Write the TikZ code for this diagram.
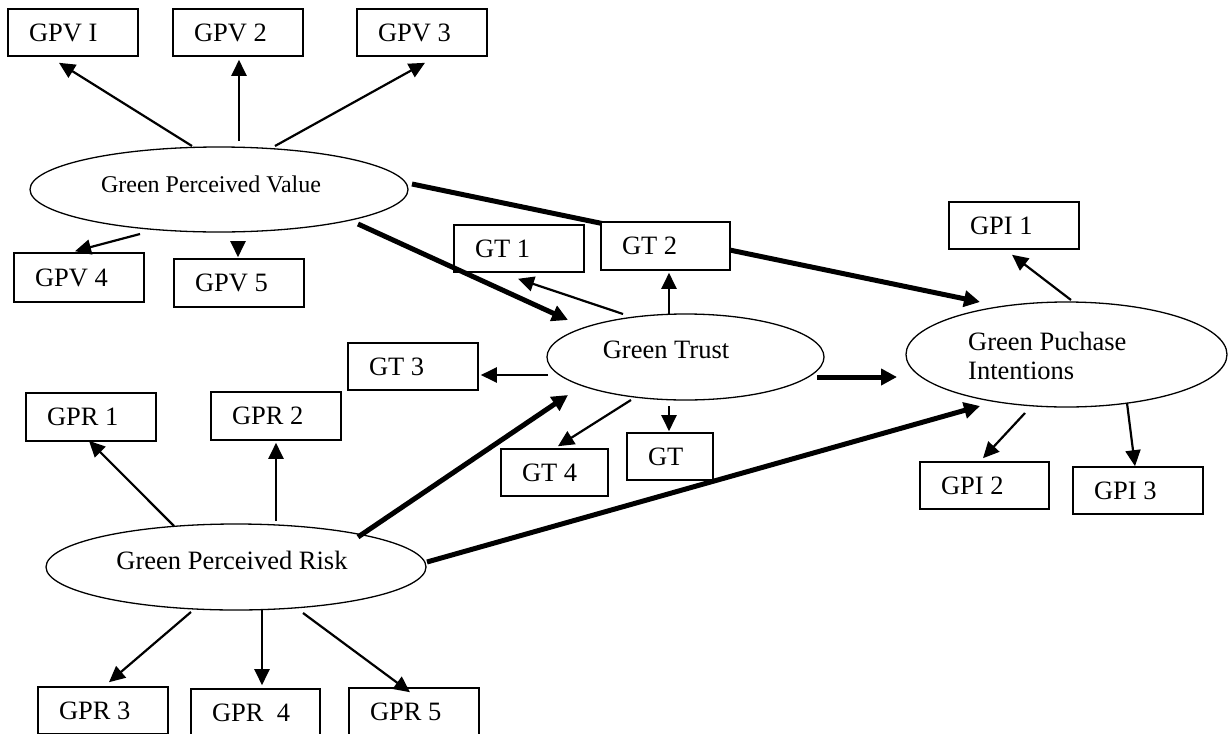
\documentclass[tikz,border=0pt]{standalone}
\usepackage{fontspec}
\setmainfont{Liberation Serif}
\usetikzlibrary{shapes.geometric,calc,arrows.meta,backgrounds}
\begin{document}
\begin{tikzpicture}[x=1pt,y=-1pt,
  box/.style={draw, fill=white, line width=1.6pt, minimum height=47pt, inner xsep=21pt, inner ysep=0pt, text width=#1, align=flush left, font=\fontsize{26.5}{30}\selectfont},
  box/.default=88pt,
  oval/.style={draw, ellipse, line width=1.3pt, inner sep=0pt},
  lbl/.style={inner sep=0pt, font=\fontsize{26.5}{29}\selectfont},
  arr/.style={line width=2.2pt, -{Triangle[length=16pt,width=15pt]}},
  barr/.style={line width=5pt, -{Triangle[length=16pt,width=16pt]}},
]
\useasboundingbox (0,0) rectangle (1232,734);
\clip (0,0) rectangle (1232,733);

% ellipses
\node[oval, minimum width=378pt, minimum height=85pt] (gpv) at (219,189.5) {};
\node[oval, minimum width=277pt, minimum height=86pt] (gt) at (685.5,357) {};
\node[oval, minimum width=321pt, minimum height=105pt] (gpi) at (1066.5,354.5) {};
\node[oval, minimum width=380pt, minimum height=86pt] (gpr) at (236,567) {};

\node[lbl, font=\fontsize{24}{28}\selectfont] (gpvt) at (211,184.5) {Green Perceived Value};
\node[lbl] (gtt) at (666,350) {Green Trust};
\node[lbl, align=flush left, anchor=west] (gpit) at (968,355.5) {Green Puchase\\Intentions};
\node[lbl] (gprt) at (232,560.5) {Green Perceived Risk};

% boxes
\node[box] (gpv1) at (73,32.5) {GPV I};
\node[box] (gpv2) at (238,32.5) {GPV 2};
\node[box] (gpv3) at (422,32.5) {GPV 3};
\node[box, minimum height=49pt] (gpv4) at (79,277.5) {GPV 4};
\node[box, minimum height=48pt] (gpv5) at (239,283) {GPV 5};
\node[box] (gt1) at (519,248.5) {GT 1};
\node[box=87pt, minimum height=48pt] (gt2) at (665.5,246) {GT 2};
\node[box] (gt3) at (413,366.5) {GT 3};
\node[box=65pt] (gt4) at (554.5,472.5) {GT 4};
\node[box=44pt] (gt5) at (670,456.5) {GT};
\node[box] (gpi1) at (1014,225.5) {GPI 1};
\node[box=87pt] (gpi2) at (984.5,485.5) {GPI 2};
\node[box] (gpi3) at (1138,490.5) {GPI 3};
\node[box, minimum height=48pt] (gpr1) at (91,417) {GPR 1};
\node[box, minimum height=48pt] (gpr2) at (276,416) {GPR 2};
\node[box] (gpr3) at (103,710.5) {GPR 3};
\node[box=87pt] (gpr4) at (255.5,712.5) {GPR\ \ 4};
\node[box] (gpr5) at (414,711.5) {GPR 5};

% thick structural paths (behind boxes)
\begin{pgfonlayer}{background}
\draw[barr] ($(gpv.center)+(193,-5.5)$) -- ($(gpi.center)+(-86.5,-52.5)$);
\draw[barr] ($(gpr.center)+(191,-5)$) -- ($(gpi.center)+(-86.5,51.5)$);
\end{pgfonlayer}
\draw[barr] ($(gpv.center)+(139,34.5)$) -- ($(gt.center)+(-117.5,-37)$);
\draw[barr] ($(gt.center)+(131.5,20)$) -- ($(gpi.center)+(-169.5,22.5)$);
\draw[barr] ($(gpr.center)+(122,-30)$) -- ($(gt.center)+(-117.5,38)$);

% indicator arrows
\draw[arr] ($(gpv.center)+(-27,-43.5)$) -- ($(gpv1.south)+(-14,6)$);
\draw[arr] ($(gpv.center)+(20,-48.5)$) -- ($(gpv2.south)+(1,3)$);
\draw[arr] ($(gpv.center)+(56,-43.5)$) -- ($(gpv3.south)+(3,6)$);
\draw[arr] ($(gpv.center)+(-79,44.5)$) -- ($(gpv4.north)+(-4,-1)$);
\draw[arr] ($(gpv.center)+(19,51.5)$) -- ($(gpv5.north)+(-1,-1)$);

\draw[arr] ($(gt.center)+(-62.5,-43)$) -- ($(gt1.south)+(-1,6)$);
\draw[arr] ($(gt.center)+(-16.5,-43)$) -- ($(gt2.south)+(3.5,2)$);
\draw[arr] ($(gt.center)+(-137.5,18)$) -- ($(gt3.east)+(2,8.5)$);
\draw[arr] ($(gt.center)+(-54.5,43)$) -- ($(gt4.north)+(3.5,-2)$);
\draw[arr] ($(gt.center)+(-16.5,49)$) -- ($(gt5.north)+(-1,-1)$);

\draw[arr] ($(gpi.center)+(4.5,-54.5)$) -- ($(gpi1.south)+(-2,5)$);
\draw[arr] ($(gpi.center)+(-41.5,58.5)$) -- ($(gpi2.north)+(-1.5,-3)$);
\draw[arr] ($(gpi.center)+(60.5,48.5)$) -- ($(gpi3.north)+(-3,0)$);

\draw[arr] ($(gpr.center)+(-62,-41)$) -- ($(gpr1.south)+(-2,-1)$);
\draw[arr] ($(gpr.center)+(40,-46)$) -- ($(gpr2.south)+(0,2)$);
\draw[arr] ($(gpr.center)+(-45,45)$) -- ($(gpr3.north)+(6,-4)$);
\draw[arr] ($(gpr.center)+(26,43)$) -- ($(gpr4.north)+(6.5,-3)$);
\draw[arr] ($(gpr.center)+(67,46)$) -- ($(gpr5.north)+(-4,5)$);
\end{tikzpicture}
\end{document}
